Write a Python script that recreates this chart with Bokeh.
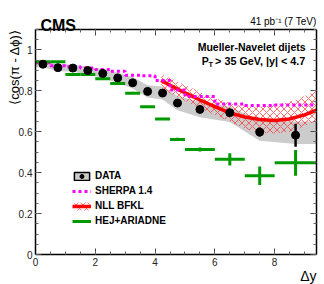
import numpy as np
from bokeh.plotting import figure
from bokeh.models import (ColumnDataSource, Range1d, LinearAxis, FixedTicker, Label,
                          Legend, LegendItem, CustomJSTickFormatter)
from bokeh.embed import file_html
from bokeh.resources import INLINE

# ---------------- data ----------------
bin_lo = [0.0, 0.5, 1.0, 1.5, 2.0, 2.5, 3.0, 3.5, 4.0, 4.5, 5.0, 6.0, 7.0, 8.0]
bin_hi = [0.5, 1.0, 1.5, 2.0, 2.5, 3.0, 3.5, 4.0, 4.5, 5.0, 6.0, 7.0, 8.0, 9.4]
data_x = [0.25, 0.75, 1.25, 1.75, 2.25, 2.75, 3.25, 3.75, 4.25, 4.75, 5.5, 6.5, 7.5, 8.7]
data_y = [0.930, 0.913, 0.911, 0.899, 0.885, 0.863, 0.839, 0.797, 0.789, 0.740, 0.709, 0.693, 0.598, 0.583]
data_stat = [0.004, 0.004, 0.004, 0.004, 0.005, 0.005, 0.006, 0.006, 0.007, 0.008, 0.009, 0.012, 0.022, 0.056]
data_sys_up = [0.015, 0.016, 0.018, 0.020, 0.022, 0.025, 0.028, 0.030, 0.032, 0.035, 0.037, 0.030, 0.057, 0.067]
data_sys_dn = [0.015, 0.016, 0.018, 0.020, 0.022, 0.025, 0.028, 0.030, 0.032, 0.035, 0.038, 0.045, 0.042, 0.043]

sherpa_y = [0.937, 0.922, 0.917, 0.911, 0.904, 0.895, 0.876, 0.873, 0.850, 0.804, 0.772, 0.735, 0.728, 0.730]

hej_y = [0.942, 0.942, 0.879, 0.879, 0.859, 0.835, 0.788, 0.722, 0.662, 0.562, 0.513, 0.465, 0.385, 0.448]
hej_err = [0.003, 0.003, 0.003, 0.003, 0.003, 0.003, 0.004, 0.004, 0.005, 0.008, 0.010, 0.030, 0.045, 0.063]

bfkl_x = [4.2, 4.75, 5.5, 6.0, 6.5, 7.0, 7.5, 8.0, 8.5, 9.0, 9.4]
bfkl_y = [0.850, 0.808, 0.755, 0.723, 0.692, 0.672, 0.660, 0.655, 0.662, 0.682, 0.705]
bfkl_hi = [0.882, 0.845, 0.795, 0.765, 0.740, 0.725, 0.722, 0.728, 0.745, 0.775, 0.800]
bfkl_lo = [0.810, 0.770, 0.715, 0.680, 0.650, 0.615, 0.595, 0.590, 0.600, 0.625, 0.655]

x_ticks = [0, 2, 4, 6, 8]
x_minor = [v * 0.5 for v in range(0, 19)]
y_ticks = [0, 0.2, 0.4, 0.6, 0.8, 1.0]
y_minor = [round(v * 0.05, 2) for v in range(0, 23)]

XMAX, YMAX = 9.4, 1.1
FONT = "Liberation Sans"

# geometry (pixels)
W, H = 324, 284
FL, FR, FT, FB = 32, 316, 29, 255      # plot box
YTOP = YMAX * FB / (FB - FT)           # frame reaches canvas top; box top is at YMAX

# ---------------- figure ----------------
p = figure(width=W, height=H, output_backend="svg", toolbar_location=None,
           x_range=Range1d(0, XMAX), y_range=Range1d(0, YTOP),
           min_border_left=FL, min_border_right=W - FR, min_border_top=0, min_border_bottom=H - FB,
           x_axis_location=None, y_axis_location=None)
p.grid.visible = False
p.outline_line_color = None
p.background_fill_color = "white"
p.border_fill_color = "white"

fmt_y = CustomJSTickFormatter(code="return tick.toFixed(1).replace(/\\.0$/, '')")
empty = CustomJSTickFormatter(code="return ''")

def style_axis(ax, labels=True):
    ax.major_tick_in = 6
    ax.major_tick_out = 0
    ax.minor_tick_in = 3
    ax.minor_tick_out = 0
    ax.axis_line_width = 1.5
    ax.axis_line_color = "black"
    ax.major_tick_line_width = 1
    ax.minor_tick_line_width = 1
    ax.major_tick_line_color = "#444444"
    ax.minor_tick_line_color = "#666666"
    ax.major_label_text_font = FONT
    ax.major_label_text_font_size = "10px"
    ax.major_label_text_color = "#222222"
    ax.major_label_standoff = 3
    if not labels:
        ax.major_label_text_font_size = "0px"
        ax.major_label_standoff = 0

xb = LinearAxis(ticker=FixedTicker(ticks=x_ticks, minor_ticks=x_minor))
style_axis(xb)
p.add_layout(xb, "below")
xt = LinearAxis(ticker=FixedTicker(ticks=x_ticks, minor_ticks=x_minor), formatter=empty,
                fixed_location=YMAX)
style_axis(xt, labels=False)
p.add_layout(xt, "above")
yl = LinearAxis(ticker=FixedTicker(ticks=y_ticks, minor_ticks=y_minor), formatter=fmt_y,
                bounds=(0, YMAX))
style_axis(yl)
p.add_layout(yl, "left")
yr = LinearAxis(ticker=FixedTicker(ticks=y_ticks, minor_ticks=y_minor), formatter=empty,
                bounds=(0, YMAX))
style_axis(yr, labels=False)
p.add_layout(yr, "right")

# ---------------- data band ----------------
band_x = [0.0] + data_x + [XMAX]
band_up = [y + u for y, u in zip(data_y, data_sys_up)]
band_dn = [y - d for y, d in zip(data_y, data_sys_dn)]
band_up = [band_up[0]] + band_up + [band_up[-1]]
band_dn = [band_dn[0]] + band_dn + [band_dn[-1]]
p.varea(x=band_x, y1=band_dn, y2=band_up, fill_color="#cccccc")

# ---------------- BFKL ----------------
bfkl_band = p.varea(x=bfkl_x, y1=bfkl_lo, y2=bfkl_hi, fill_alpha=0,
                    hatch_pattern="diagonal_cross", hatch_color="#ff2a2a",
                    hatch_alpha=0.85, hatch_scale=7, hatch_weight=0.8)
bfkl_line = p.line(bfkl_x, bfkl_y, line_color="#ff0000", line_width=3.5)

# ---------------- SHERPA (histogram steps) ----------------
sh_x = bin_lo + [bin_hi[-1]]
sh_y = sherpa_y + [sherpa_y[-1]]
sherpa = p.step(sh_x, sh_y, mode="after", line_color="#ff00ff", line_width=3, line_dash="3 3")

# ---------------- HEJ+ARIADNE ----------------
hsrc = ColumnDataSource(dict(lo=bin_lo, hi=bin_hi, x=data_x, y=hej_y,
                             ylo=[a - b for a, b in zip(hej_y, hej_err)],
                             yhi=[a + b for a, b in zip(hej_y, hej_err)]))
hej = p.segment(x0="lo", x1="hi", y0="y", y1="y", source=hsrc, line_color="#009900", line_width=3)
p.segment(x0="x", x1="x", y0="ylo", y1="yhi", source=hsrc, line_color="#009900", line_width=3)

# ---------------- DATA ----------------
dsrc = ColumnDataSource(dict(x=data_x, y=data_y,
                             ylo=[a - b for a, b in zip(data_y, data_stat)],
                             yhi=[a + b for a, b in zip(data_y, data_stat)]))
p.segment(x0="x", x1="x", y0="ylo", y1="yhi", source=dsrc, line_color="black", line_width=2.5)
# zero-size box at each point (hidden under the markers), gives the legend its boxed symbol
data_box = p.quad(left="x", right="x", bottom="y", top="y", source=dsrc,
                  fill_color="#cccccc", line_color="black", line_width=1.5)
dots = p.scatter("x", "y", source=dsrc, size=8, color="black")

legend = Legend(items=[
    LegendItem(label="DATA", renderers=[data_box, dots]),
    LegendItem(label="SHERPA 1.4", renderers=[sherpa]),
    LegendItem(label="NLL BFKL", renderers=[bfkl_band, bfkl_line]),
    LegendItem(label="HEJ+ARIADNE", renderers=[hej]),
], location=(37, 28), padding=0, margin=0, spacing=4,
    glyph_width=19, glyph_height=10, label_height=10, label_standoff=4,
    label_text_font=FONT, label_text_font_style="bold", label_text_font_size="10px",
    label_text_color="black", label_text_line_height=1.0,
    border_line_alpha=0, background_fill_alpha=0)
p.add_layout(legend, "center")

# ---------------- texts ----------------
def px2x(px):
    return (px - FL) * XMAX / (FR - FL)

def py2y(py):
    return (FB - py) * YMAX / (FB - FT)

def add_text(panel="center", **kw):
    kw.setdefault("text_font", FONT)
    kw.setdefault("text_color", "black")
    kw.setdefault("text_baseline", "alphabetic")
    p.add_layout(Label(**kw), panel)

add_text(x=px2x(37), y=py2y(25), text="CMS", text_font_style="bold", text_font_size="16px")
add_text(x=XMAX, y=py2y(21), text="41 pb⁻¹ (7 TeV)", text_font_size="10px", text_align="right")
add_text(x=px2x(305), y=py2y(47), text="Mueller-Navelet dijets", text_font_style="bold",
         text_font_size="10.5px", text_align="right")
add_text(x=px2x(200), y=py2y(61), text="P", text_font_style="bold", text_font_size="10.5px")
add_text(x=px2x(206.8), y=py2y(64), text="T", text_font_style="bold", text_font_size="7.5px")
add_text(x=px2x(213.5), y=py2y(61), text="> 35 GeV, |y| < 4.7", text_font_style="bold",
         text_font_size="10.8px")
# texts outside the plot box go into the side panels
add_text("below", x=XMAX, y=py2y(277), text="Δy", text_font_size="14px", text_align="right")
add_text("left", x=px2x(11), y=YMAX, text="⟨cos(π - Δϕ)⟩", text_font_size="13px",
         text_align="right", angle=np.pi / 2)

open("out.html", "w").write(file_html(p, INLINE))
